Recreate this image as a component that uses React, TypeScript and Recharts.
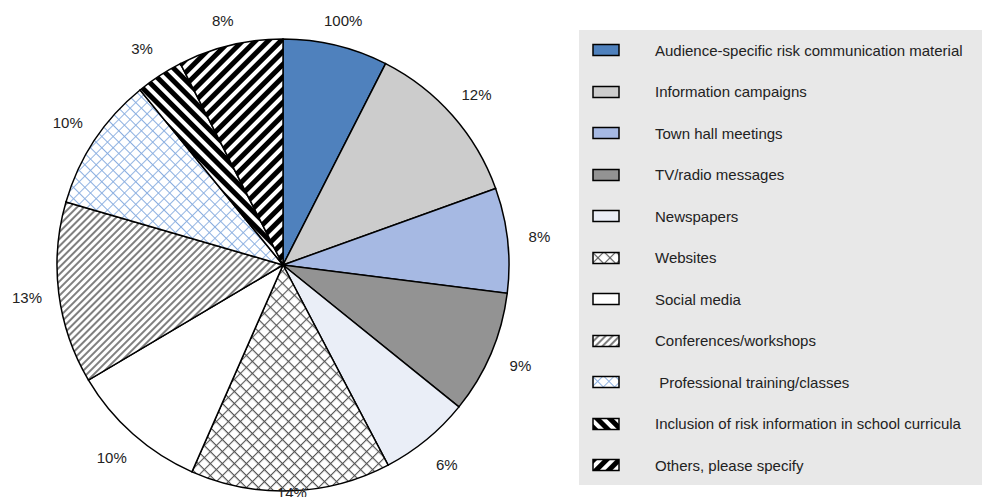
import { PieChart, Pie, Cell, Legend } from 'recharts';

const categories = [
  'Audience-specific risk communication material',
  'Information campaigns',
  'Town hall meetings',
  'TV/radio messages',
  'Newspapers',
  'Websites',
  'Social media',
  'Conferences/workshops',
  ' Professional training/classes',
  'Inclusion of risk information in school curricula',
  'Others, please specify',
];

// share of respondents
const shares = [7.5, 12, 7.5, 8.8, 6.5, 14.3, 9.9, 13, 9.6, 3.4, 7.5];

// labels as printed on the chart (first one reads 100% in the original)
const labelTexts = ['100%', '12%', '8%', '9%', '6%', '14%', '10%', '13%', '10%', '3%', '8%'];

const fills = [
  '#4f81bd',
  '#cccccc',
  '#a6b9e3',
  '#939393',
  '#eaeef7',
  'url(#patWeb)',
  '#ffffff',
  'url(#patConf)',
  'url(#patTrain)',
  'url(#patIncl)',
  'url(#patOthers)',
];

const data = categories.map((name, i) => ({ name, value: shares[i], label: labelTexts[i] }));

const RAD = Math.PI / 180;

function renderLabel(props: any) {
  const { cx, cy, midAngle, outerRadius, index } = props;
  const r = outerRadius + 32;
  const x = cx + r * Math.cos(-midAngle * RAD);
  let y = cy + r * Math.sin(-midAngle * RAD);
  y = Math.max(20, Math.min(492, y));
  return (
    <text x={x} y={y} textAnchor="middle" dominantBaseline="central" fill="#222" fontSize={15}>
      {labelTexts[index]}
    </text>
  );
}

function LegendPanel() {
  return (
    <div style={{ width: 403, height: 455, background: '#e8e8e8', position: 'relative' }}>
      {categories.map((name, i) => (
        <div key={i} style={{ position: 'absolute', left: 0, top: 20 + i * 41.5 - 10, height: 20, display: 'flex', alignItems: 'center' }}>
          <svg width={30} height={14} style={{ marginLeft: 13 }}>
            <rect x={1} y={1.5} width={26} height={11} fill={fills[i]} stroke="#000" strokeWidth={1.5} />
          </svg>
          <span style={{ marginLeft: 33, fontSize: 15, color: '#222', whiteSpace: 'pre' }}>{name}</span>
        </div>
      ))}
    </div>
  );
}

export default function App() {
  return (
    <div style={{ position: 'absolute', left: 0, top: 0, width: 982, height: 497, fontFamily: '"Liberation Sans", Arial, sans-serif', background: '#fff' }}>
      <svg width={0} height={0} style={{ position: 'absolute' }}>
        <defs>
          <pattern id="patWeb" patternUnits="userSpaceOnUse" width={8.5} height={8.5} patternTransform="rotate(45)">
            <rect width={8.5} height={8.5} fill="#fff" />
            <path d="M0,0 L0,8.5 M0,0 L8.5,0" stroke="#555" strokeWidth={2.2} />
          </pattern>
          <pattern id="patTrain" patternUnits="userSpaceOnUse" width={8} height={8} patternTransform="rotate(45)">
            <rect width={8} height={8} fill="#fff" />
            <path d="M0,0 L0,8 M0,0 L8,0" stroke="#8aaee0" strokeWidth={1.8} />
          </pattern>
          <pattern id="patConf" patternUnits="userSpaceOnUse" width={5} height={5} patternTransform="rotate(45)">
            <rect width={5} height={5} fill="#fff" />
            <rect width={2} height={5} fill="#808080" />
          </pattern>
          <pattern id="patIncl" patternUnits="userSpaceOnUse" width={9} height={9} patternTransform="rotate(-45)">
            <rect width={9} height={9} fill="#fff" />
            <rect width={5} height={9} fill="#000" />
          </pattern>
          <pattern id="patOthers" patternUnits="userSpaceOnUse" width={9} height={9} patternTransform="rotate(45)">
            <rect width={9} height={9} fill="#fff" />
            <rect width={5} height={9} fill="#000" />
          </pattern>
        </defs>
      </svg>
      <PieChart width={982} height={497} margin={{ top: 0, right: 0, bottom: 0, left: 0 }}>
        <Pie
          data={data}
          dataKey="value"
          nameKey="name"
          cx={283}
          cy={265}
          outerRadius={226}
          startAngle={90}
          endAngle={-270}
          stroke="#000"
          strokeWidth={1.5}
          label={renderLabel}
          labelLine={false}
          isAnimationActive={false}
        >
          {data.map((_, i) => (
            <Cell key={i} fill={fills[i]} />
          ))}
        </Pie>
        <Legend
          content={() => <LegendPanel />}
          wrapperStyle={{ position: 'absolute', left: 579, top: 30, width: 403, height: 455 }}
        />
      </PieChart>
    </div>
  );
}
